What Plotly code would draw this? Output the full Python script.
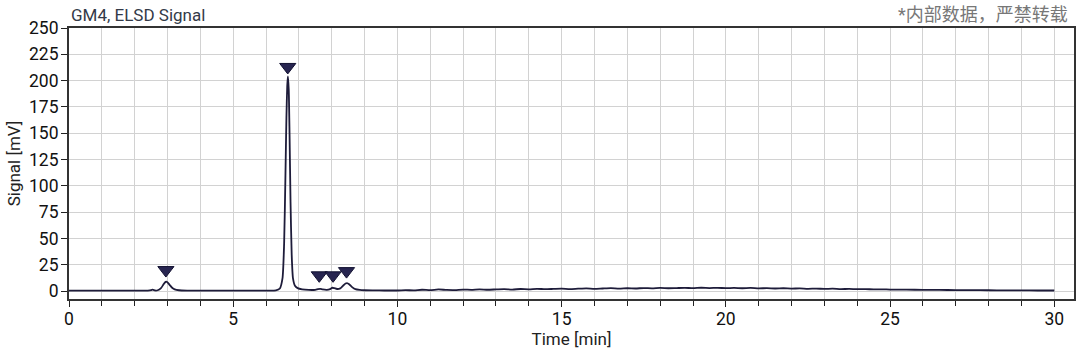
import plotly.graph_objects as go

# Chromatogram trace (time in min, signal in mV)
time_min = [0.0, 1.0, 2.0, 2.4, 2.5, 2.55, 2.62, 2.7, 2.8, 2.87, 2.92, 2.96, 3.0, 3.06, 3.14, 3.22, 3.35, 3.6,
            4.0, 5.0, 6.0, 6.3, 6.42, 6.5, 6.55, 6.59, 6.62, 6.645, 6.665, 6.69, 6.715, 6.745, 6.78, 6.82,
            6.88, 6.96, 7.1, 7.3, 7.5, 7.58, 7.65, 7.72, 7.85, 7.95, 8.02, 8.08, 8.16, 8.26, 8.34, 8.42,
            8.47, 8.53, 8.62, 8.72, 8.85, 9.0, 9.3, 9.6,
            10.0, 10.25, 10.5, 10.75, 11.0, 11.25, 11.5, 11.75, 12.0, 12.25, 12.5, 12.75, 13.0, 13.25,
            13.5, 13.75, 14.0, 14.25, 14.5, 14.75, 15.0, 15.25, 15.5, 15.75, 16.0, 16.25, 16.5, 16.75,
            17.0, 17.25, 17.5, 17.75, 18.0, 18.25, 18.5, 18.75, 19.0, 19.25, 19.5, 19.75, 20.0, 20.25,
            20.5, 20.75, 21.0, 21.25, 21.5, 21.75, 22.0, 22.25, 22.5, 22.75, 23.0, 23.25, 23.5, 23.75,
            24.0, 24.25, 24.5, 24.75, 25.0, 25.5, 26.0, 26.5, 27.0, 27.5, 28.0, 28.5, 29.0, 29.5, 30.0]
signal_mv = [0.4, 0.4, 0.4, 0.5, 0.9, 1.4, 0.6, 0.8, 2.8, 6.0, 8.2, 9.0, 8.3, 6.0, 3.2, 1.6, 0.8, 0.5,
             0.4, 0.4, 0.5, 0.7, 2.5, 12.0, 45.0, 110.0, 165.0, 195.0, 204.0, 192.0, 150.0, 85.0, 35.0, 12.0,
             5.0, 2.8, 1.6, 1.1, 1.2, 1.8, 2.1, 1.6, 1.2, 1.9, 3.2, 2.8, 2.0, 2.6, 5.0, 7.2,
             7.6, 6.5, 3.8, 1.8, 1.1, 0.8, 0.7, 0.6,
             0.6, 0.9, 0.7, 1.3, 0.9, 1.6, 1.1, 1.0, 1.5, 1.2, 1.7, 1.3, 1.6, 1.9,
             1.5, 2.0, 1.7, 2.2, 1.8, 2.1, 2.4, 1.9, 2.3, 2.6, 2.1, 2.5, 2.8, 2.3,
             2.7, 2.5, 2.9, 2.6, 3.0, 2.7, 2.9, 3.1, 2.8, 3.2, 2.9, 3.1, 2.8, 3.0,
             2.7, 3.0, 2.6, 2.8, 2.5, 2.7, 2.4, 2.6, 2.2, 2.4, 2.1, 2.3, 1.9, 2.1,
             1.8, 1.9, 1.6, 1.7, 1.5, 1.4, 1.2, 1.1, 1.0, 0.9, 0.8, 0.7, 0.7, 0.6, 0.6]

# Peak markers
peak_times = [2.95, 6.66, 7.62, 8.04, 8.45]
marker_mv = [20.0, 213.0, 15.0, 15.0, 19.0]

x_ticks = [0, 5, 10, 15, 20, 25, 30]
y_ticks = [0, 25, 50, 75, 100, 125, 150, 175, 200, 225, 250]

title_text = "GM4, ELSD Signal"
watermark_text = "*内部数据，严禁转载"
x_title = "Time [min]"
y_title = "Signal [mV]"

LINE = "#1e1c3a"
MARK = "#272550"
FONT = "Roboto, 'Noto Sans CJK SC', sans-serif"

fig = go.Figure()
fig.add_trace(go.Scatter(x=time_min, y=signal_mv, mode="lines",
                         line=dict(color=LINE, width=1.8, shape="spline", smoothing=0.6),
                         hoverinfo="skip", showlegend=False))
fig.add_trace(go.Scatter(x=peak_times, y=marker_mv, mode="markers",
                         marker=dict(symbol="triangle-down", size=14, color=MARK,
                                     line=dict(color="#111030", width=1)),
                         showlegend=False))

fig.update_layout(
    width=1080, height=351,
    margin=dict(l=69, r=4, t=28, b=52),
    paper_bgcolor="white", plot_bgcolor="white",
    font=dict(family=FONT, size=17, color="#111111"),
    xaxis=dict(range=[0, 30.6], tickvals=x_ticks, ticks="outside", ticklen=6, tickcolor="#222",
               showline=True, linecolor="#333", linewidth=2, mirror=True,
               showgrid=True, gridcolor="#d2d2d2", gridwidth=1, zeroline=False,
               minor=dict(dtick=1, tick0=0, ticks="outside", ticklen=5, tickcolor="#222",
                          showgrid=True, gridcolor="#d2d2d2", gridwidth=1),
               ticklabelstandoff=-3,
               title=dict(text=x_title, font=dict(size=17, color="#222"), standoff=4),
               tickfont=dict(size=17.5, color="#111")),
    yaxis=dict(range=[-7.5, 250], tickvals=y_ticks, ticks="outside", ticklen=6, tickcolor="#222",
               showline=True, linecolor="#333", linewidth=2, mirror=True,
               showgrid=True, gridcolor="#d2d2d2", gridwidth=1, zeroline=False,
               ticklabelstandoff=-1,
               title=dict(text=y_title, font=dict(size=17, color="#222"), standoff=4),
               tickfont=dict(size=17.5, color="#111")),
)

fig.add_annotation(text=title_text, xref="paper", yref="paper", x=0, y=1, xanchor="left", yanchor="bottom",
                   yshift=1, showarrow=False, font=dict(size=17, color="#333a48"))
fig.add_annotation(text=watermark_text, xref="paper", yref="paper", x=1, y=1, xanchor="right", yanchor="bottom",
                   xshift=-4, yshift=1, showarrow=False, font=dict(size=18, color="#777777"))

fig.write_html("out.html")
